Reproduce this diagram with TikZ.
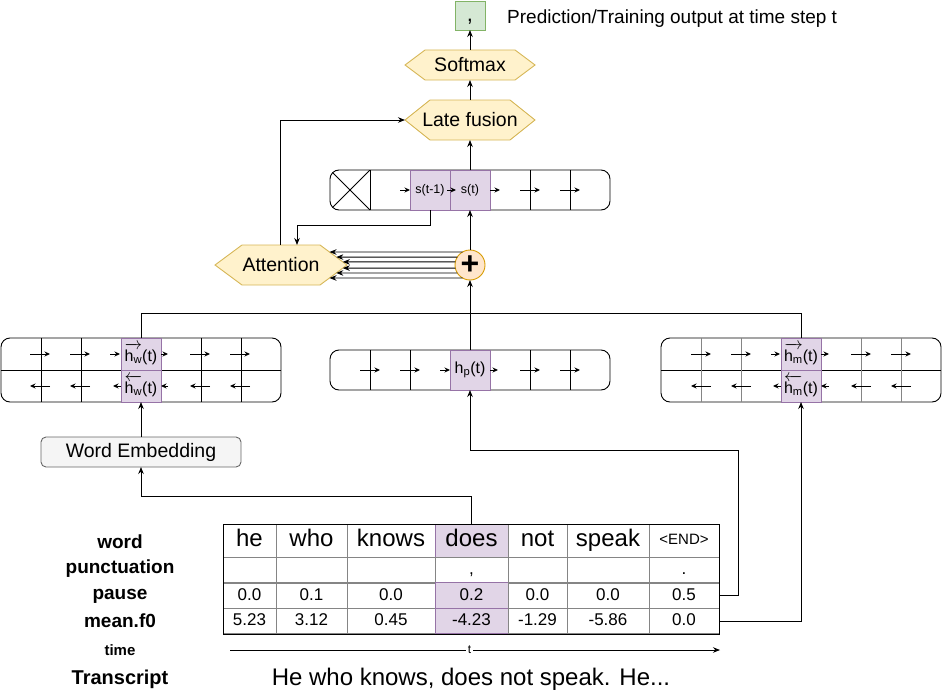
\documentclass[tikz,border=0pt]{standalone}
\usepackage{amsmath}
\usepackage{fontspec}
\setmainfont{Liberation Sans}
\usetikzlibrary{arrows.meta,calc}

\definecolor{purpfill}{HTML}{E1D5E7}
\definecolor{purpdraw}{HTML}{9673A6}
\definecolor{hexfill}{HTML}{FFF2CC}
\definecolor{hexdraw}{HTML}{D6B656}
\definecolor{plusfill}{HTML}{FFE6CC}
\definecolor{plusdraw}{HTML}{D79B00}
\definecolor{grnfill}{HTML}{D5E8D4}
\definecolor{grndraw}{HTML}{82B366}
\definecolor{embfill}{HTML}{F5F5F5}
\definecolor{embdraw}{HTML}{666666}
\definecolor{gridgray}{HTML}{858585}

\newcommand\fs[1]{\fontsize{#1}{#1}\selectfont}
\newcommand\hexpoly[5]{\filldraw[hexshape] ({#1-#3},#2) -- ({#1-#3+#5},{#2-#4}) -- ({#1+#3-#5},{#2-#4}) -- ({#1+#3},#2) -- ({#1+#3-#5},{#2+#4}) -- ({#1-#3+#5},{#2+#4}) -- cycle;}

\begin{document}
\begin{tikzpicture}[x=1pt,y=-1pt,
  conn/.style={draw=black, line width=0.9pt, -{Stealth[length=7pt,width=5.5pt]}},
  plain/.style={draw=black, line width=0.9pt},
  carrow/.style={line width=0.9pt, -{Stealth[length=5.5pt,width=5pt]}},
  lstm/.style={draw=black, line width=0.9pt, rounded corners=9pt, minimum width=280pt, inner sep=0pt, outer sep=0pt},
  purp/.style={draw=purpdraw, fill=purpfill, line width=0.9pt, minimum width=40pt, inner sep=0pt, outer sep=0pt},
  hexshape/.style={draw=hexdraw, fill=hexfill, line width=0.9pt},
  hexlab/.style={inner sep=0pt, outer sep=0pt, minimum width=130pt, font=\fs{19.5}},
  tcell/.style={draw=gridgray, line width=0.9pt, inner sep=0pt, outer sep=0pt},
  wrow/.style={tcell, minimum height=33pt, font=\fs{24}, text height=17pt, text depth=5pt},
  urow/.style={tcell, minimum height=26pt, font=\fs{17}, text height=12pt, text depth=4pt},
  nrow/.style={tcell, minimum height=25.5pt, font=\fs{17}, text height=12pt, text depth=3pt},
  lab/.style={font=\fs{19}\bfseries, inner sep=0pt}
]
\useasboundingbox (0,0) rectangle (942,693);

% ---------- output ----------
\node[draw=grndraw, fill=grnfill, line width=0.9pt, minimum width=30pt, minimum height=29pt, inner sep=0pt, outer sep=0pt, font=\fs{22}, text height=14pt, text depth=2pt] (out) at (470,15.5) {,};
\node[anchor=west, font=\fs{19}, inner sep=0pt] (predlab) at (507,19) {Prediction/Training output at time step t};

% ---------- hexagons ----------
\hexpoly{470}{65}{65}{15}{20}
\node[hexlab, minimum height=30pt] (soft) at (470,65) {Softmax};
\hexpoly{470}{120}{65}{20}{25}
\node[hexlab, minimum height=40pt] (late) at (470,120) {Late fusion};
\hexpoly{281}{265}{66}{20}{27}
\node[hexlab, minimum width=132pt, minimum height=40pt] (attn) at (281,265) {Attention};

% ---------- decoder state row ----------
\node[lstm, minimum height=40pt] (state) at (470,190) {};
\begin{scope}
  \clip[rounded corners=9pt] (330,170) rectangle (610,210);
  \draw[plain] (330,170) -- (370,210) (330,210) -- (370,170);
\end{scope}
\foreach \xx in {370,490,530,570} \draw[plain] (\xx,170) -- (\xx,210);
\node[purp, minimum height=40pt, font=\fs{12.5}] (sprev) at (430,190) {s(t-1)};
\node[purp, minimum height=40pt, font=\fs{12.5}] (scur) at (470,190) {s(t)};
\foreach \a/\b in {400/410,447/456,490/500,520/540,560/580} \draw[carrow] (\a,190) -- (\b,190);

% ---------- plus ----------
\node[circle, draw=plusdraw, fill=plusfill, line width=0.9pt, minimum size=30pt, inner sep=0pt, outer sep=0pt, font=\fs{32}\bfseries] (plus) at (470,265) {+};

% ---------- word BiLSTM ----------
\node[lstm, minimum height=64pt] (lw) at (141,370) {};
\draw[plain] (1,370) -- (281,370);
\foreach \xx in {41,81,201,241} \draw[plain] (\xx,338) -- (\xx,402);
\node[purp, minimum height=32pt, font=\fs{16}] (hwf) at (141,354) {$\overrightarrow{\text{h}_{\text{w}}}$(t)};
\node[purp, minimum height=32pt, font=\fs{16}] (hwb) at (141,386) {$\overleftarrow{\text{h}_{\text{w}}}$(t)};
\foreach \a/\b in {30/50,70/90,110/120,161/168,190/210,230/250} \draw[carrow] (\a,354) -- (\b,354);
\foreach \a/\b in {30/50,70/90,113/121,161/168,190/210,230/250} \draw[carrow] (\b,386) -- (\a,386);

% ---------- pause LSTM ----------
\node[lstm, minimum height=40pt] (mid) at (470,370) {};
\foreach \xx in {370,410,530,570} \draw[plain] (\xx,350) -- (\xx,390);
\node[purp, minimum height=40pt, font=\fs{16}] (hp) at (470,370) {$\text{h}_{\text{p}}$(t)};
\foreach \a/\b in {360/380,400/420,440/450,490/498,520/540,560/580} \draw[carrow] (\a,370) -- (\b,370);

% ---------- f0 BiLSTM ----------
\node[lstm, minimum height=64pt] (rw) at (801,370) {};
\draw[plain] (661,370) -- (941,370);
\foreach \xx in {701,741,861,901} \draw[draw=gridgray, line width=0.9pt] (\xx,338) -- (\xx,402);
\node[purp, minimum height=32pt, font=\fs{16}] (hmf) at (801,354) {$\overrightarrow{\text{h}_{\text{m}}}$(t)};
\node[purp, minimum height=32pt, font=\fs{16}] (hmb) at (801,386) {$\overleftarrow{\text{h}_{\text{m}}}$(t)};
\foreach \a/\b in {691/711,731/751,771/780,821/829,851/871,891/911} \draw[carrow] (\a,354) -- (\b,354);
\foreach \a/\b in {691/711,731/751,773/781,821/829,851/871,891/911} \draw[carrow] (\b,386) -- (\a,386);

% ---------- word embedding ----------
\node[draw=embdraw, fill=embfill, line width=0.9pt, rounded corners=5pt, minimum width=200pt, minimum height=30pt, inner sep=0pt, outer sep=0pt, font=\fs{19.5}] (wemb) at (141,452) {Word Embedding};

% ---------- table ----------
\node[wrow, minimum width=53pt] (w1) at (249.5,540.5) {he};
\node[wrow, minimum width=71pt] (w2) at (311.5,540.5) {who};
\node[wrow, minimum width=88pt] (w3) at (391,540.5) {knows};
\node[wrow, minimum width=73pt, fill=purpfill, draw=purpdraw] (w4) at (471.5,540.5) {does};
\node[wrow, minimum width=59pt] (w5) at (537.5,540.5) {not};
\node[wrow, minimum width=82pt] (w6) at (608,540.5) {speak};
\node[wrow, minimum width=70pt, font=\fs{15}, text height=11pt, text depth=3pt] (w7) at (684,540.5) {<END>};

\node[urow, minimum width=53pt] (u1) at (249.5,570) {};
\node[urow, minimum width=71pt] (u2) at (311.5,570) {};
\node[urow, minimum width=88pt] (u3) at (391,570) {};
\node[urow, minimum width=73pt] (u4) at (471.5,570) {,};
\node[urow, minimum width=59pt] (u5) at (537.5,570) {};
\node[urow, minimum width=82pt] (u6) at (608,570) {};
\node[urow, minimum width=70pt] (u7) at (684,570) {.};

\node[nrow, minimum width=53pt] (p1) at (249.5,595.5) {0.0};
\node[nrow, minimum width=71pt] (p2) at (311.5,595.5) {0.1};
\node[nrow, minimum width=88pt] (p3) at (391,595.5) {0.0};
\node[nrow, minimum width=73pt, fill=purpfill, draw=purpdraw] (p4) at (471.5,595.5) {0.2};
\node[nrow, minimum width=59pt] (p5) at (537.5,595.5) {0.0};
\node[nrow, minimum width=82pt] (p6) at (608,595.5) {0.0};
\node[nrow, minimum width=70pt] (p7) at (684,595.5) {0.5};

\node[nrow, minimum width=53pt] (m1) at (249.5,621) {5.23};
\node[nrow, minimum width=71pt] (m2) at (311.5,621) {3.12};
\node[nrow, minimum width=88pt] (m3) at (391,621) {0.45};
\node[nrow, minimum width=73pt, fill=purpfill, draw=purpdraw] (m4) at (471.5,621) {-4.23};
\node[nrow, minimum width=59pt] (m5) at (537.5,621) {-1.29};
\node[nrow, minimum width=82pt] (m6) at (608,621) {-5.86};
\node[nrow, minimum width=70pt] (m7) at (684,621) {0.0};
\draw[plain] (223,524) rectangle (719,634);

% ---------- left labels ----------
\node[lab] (lword) at (120,542) {word};
\node[lab] (lpunct) at (120,569) {punctuation};
\node[lab] (lpause) at (120,596) {pause};
\node[lab] (lmean) at (120,621) {mean.f0};
\node[lab, font=\fs{15}\bfseries] (ltime) at (120,650) {time};
\node[lab, font=\fs{20}\bfseries] (ltrans) at (120,679) {Transcript};
\node[font=\fs{24}, inner sep=0pt] (sentence) at (471,679) {He who knows, does not speak. He...};

% ---------- time axis ----------
\coordinate (ts) at (230,650);
\coordinate (te) at (720,650);
\draw[conn] (ts) -- node[pos=0.489, fill=white, inner sep=2pt, font=\fs{12}] (tlab) {t} (te);

% ---------- connectors ----------
\draw[conn] (wemb.north) -- (hwb.south);
\draw[conn] (w4.north) -- ++(0,-28) -| (wemb.south);
\coordinate (pj) at (738,450);
\draw[conn] (p7.east) -| (pj) -| (hp.south);
\draw[conn] (m7.east) -| (hmb.south);
\coordinate (jn) at (470,313);
\draw[plain] (hwf.north) |- (jn);
\draw[plain] (hmf.north) |- (jn);
\draw[conn] (hp.north) -- (plus.south);
\draw[conn] (plus.north) -- (scur.south);
\draw[conn] (scur.north) -- (late.south);
\draw[conn] (late.north) -- (soft.south);
\draw[conn] (soft.north) -- (out.south);
\draw[conn] (sprev.south) -- ++(0,15) -| ([xshift=16pt]attn.north);
\draw[conn] ([xshift=-1pt]attn.north) |- (late.west);

\coordinate (ae1) at (329.5,252);
\coordinate (ae2) at (336.3,257.05);
\coordinate (ae3) at (342.8,261.9);
\coordinate (ae4) at (342.8,268.1);
\coordinate (ae5) at (336.3,272.95);
\coordinate (ae6) at (329.5,278);
\draw[conn] (plus.120) -- (ae1);
\draw[conn] (plus.148) -- (ae2);
\draw[conn] (plus.168) -- (ae3);
\draw[conn] (plus.192) -- (ae4);
\draw[conn] (plus.212) -- (ae5);
\draw[conn] (plus.240) -- (ae6);
\end{tikzpicture}
\end{document}
